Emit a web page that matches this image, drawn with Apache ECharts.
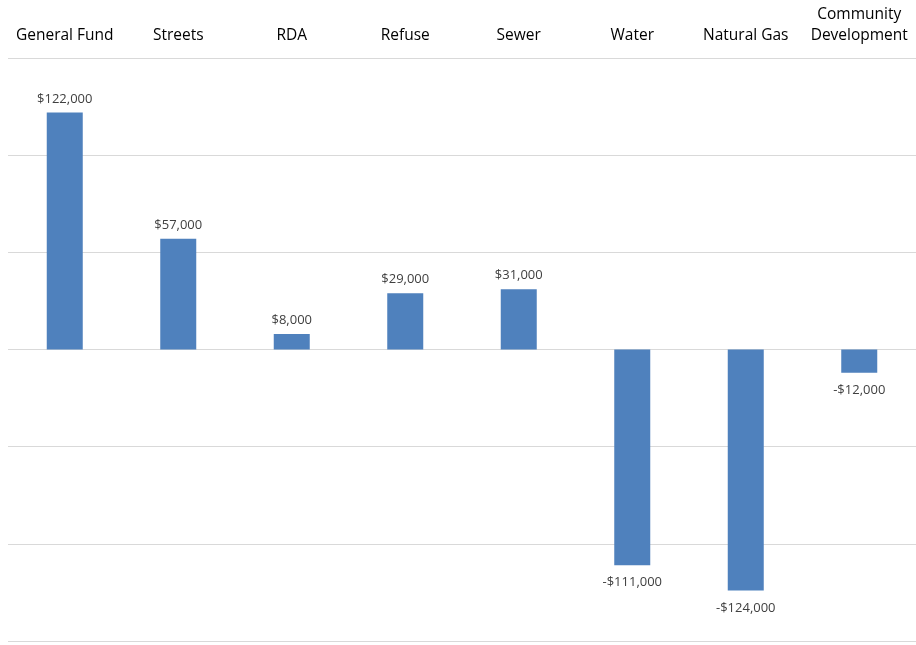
<!DOCTYPE html>
<html><head><meta charset="utf-8">
<script src="https://cdn.jsdelivr.net/npm/echarts@6/dist/echarts.min.js"></script>
<style>html,body{margin:0;padding:0;background:#fff}#c{width:916px;height:645px}</style>
</head><body><div id="c"></div>
<script>
const categories = ["General Fund","Streets","RDA","Refuse","Sewer","Water","Natural Gas","Community\nDevelopment"];
const values = [122000, 57000, 8000, 29000, 31000, -111000, -124000, -12000];

function fmt(v){
  const s = Math.abs(v).toLocaleString('en-US');
  return (v < 0 ? '-$' : '$') + s;
}
const chart = echarts.init(document.getElementById('c'), null, {renderer:'canvas'});
chart.setOption({
  animation:false,
  grid:{left:8,right:0,top:58,bottom:4,containLabel:false},
  xAxis:{type:'category',position:'top',data:categories,
    axisLine:{show:false},axisTick:{show:false},
    axisLabel:{color:'#000',fontSize:15.5,fontFamily:'Open Sans, Calibri, sans-serif',margin:12,lineHeight:21,interval:0}},
  yAxis:{type:'value',min:-150000,max:150000,interval:50000,
    axisLabel:{show:false},axisLine:{show:false},axisTick:{show:false},
    splitLine:{lineStyle:{color:'#d9d9d9',width:1}}},
  series:[{type:'bar',barWidth:36,
    itemStyle:{color:'#4f81bd'},
    data:values.map(v=>({value:v,label:{position:v<0?'bottom':'top',distance:v<0?11:7}})),
    label:{show:true,color:'#404040',fontSize:13,fontFamily:'Open Sans, Calibri, sans-serif',
      formatter:p=>fmt(p.value)}}]
});
</script></body></html>
